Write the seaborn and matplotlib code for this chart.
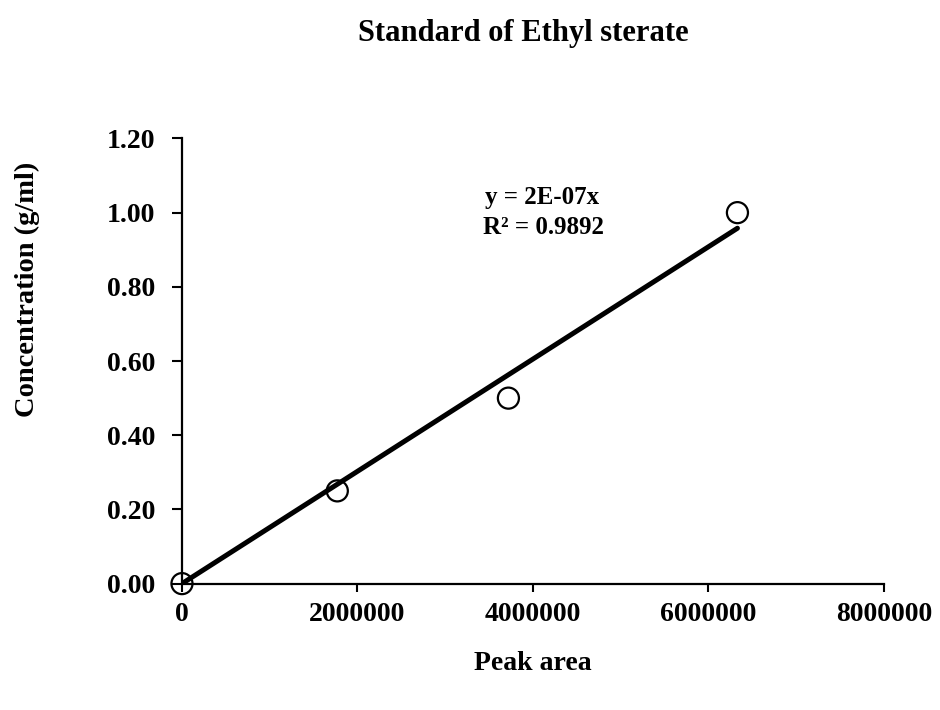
import numpy as np
import pandas as pd
import matplotlib
matplotlib.use("Agg")
import matplotlib.pyplot as plt
import seaborn as sns

# Calibration standard: GC peak area vs. concentration
peak_area = [0, 1770000, 3720000, 6330000]
concentration = [0.00, 0.25, 0.50, 1.00]
x_ticks = [0, 2000000, 4000000, 6000000, 8000000]
y_ticks = [0.00, 0.20, 0.40, 0.60, 0.80, 1.00, 1.20]

sns.set_theme(style="white")
plt.rcParams["font.family"] = ["Liberation Serif", "DejaVu Serif"]
plt.rcParams["font.weight"] = "bold"
plt.rcParams["text.color"] = "black"
plt.rcParams["axes.labelcolor"] = "black"

df = pd.DataFrame({"Peak area": peak_area, "Concentration": concentration})

# Linear trendline forced through the origin
xa = np.array(peak_area, dtype=float)
ya = np.array(concentration, dtype=float)
slope = (xa * ya).sum() / (xa * xa).sum()
fit = pd.DataFrame({"x": [0.0, xa.max()], "y": [0.0, slope * xa.max()]})

fig = plt.figure(figsize=(9.4, 7.1), dpi=100)
ax = fig.add_axes([0.1936, 0.178, 0.7468, 0.627])

sns.scatterplot(data=df, x="Peak area", y="Concentration", ax=ax,
                marker="o", s=230, facecolors="none", edgecolor="black",
                linewidth=1.6, zorder=3, clip_on=False)
sns.lineplot(data=fit, x="x", y="y", ax=ax, color="black", linewidth=3.6,
             zorder=4)

ax.set_xlim(0, 8000000)
ax.set_ylim(0, 1.20)
ax.set_xticks(x_ticks)
ax.set_xticklabels([str(v) for v in x_ticks])
ax.set_yticks(y_ticks)
ax.set_yticklabels([f"{v:.2f}" for v in y_ticks])

for side in ["top", "right"]:
    ax.spines[side].set_visible(False)
for side in ["left", "bottom"]:
    ax.spines[side].set_color("black")
    ax.spines[side].set_linewidth(1.6)

ax.tick_params(axis="both", which="major", direction="out",
               width=1.5, colors="black", labelsize=20, bottom=True, left=True)
ax.tick_params(axis="y", length=7, pad=12)
ax.tick_params(axis="x", length=5.5, pad=8)
for lbl in ax.get_xticklabels() + ax.get_yticklabels():
    lbl.set_fontweight("bold")
ax.grid(False)

ax.set_xlabel("")
ax.set_ylabel("")
fig.text(0.567, 0.065, "Peak area", ha="center", va="center",
         fontsize=20, fontweight="bold")
fig.text(0.029, 0.592, "Concentration (g/ml)", ha="center", va="center",
         rotation=90, fontsize=20.5, fontweight="bold")
fig.text(0.557, 0.953, "Standard of Ethyl sterate", ha="center",
         va="center", fontsize=22, fontweight="bold")

ax.text(0.577, 0.722, "y = 2E-07x", transform=fig.transFigure,
        ha="center", va="center", fontsize=18, fontweight="bold")
ax.text(0.578, 0.679, "R\u00b2 = 0.9892", transform=fig.transFigure,
        ha="center", va="center", fontsize=18, fontweight="bold")

fig.savefig("out.png", dpi=100, facecolor="white")
